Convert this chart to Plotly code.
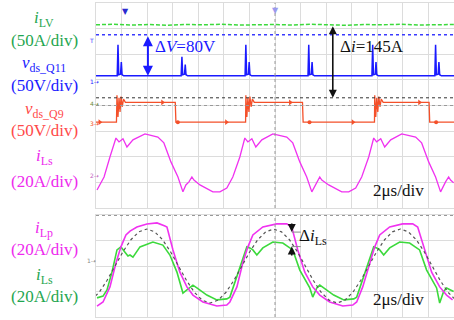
import plotly.graph_objects as go

# ---------------- data (time in microseconds, amplitude in scope divisions) ----------------
# top panel: i_LV (green)
t_ilv = [0, 1.4, 2.8, 4.2, 5.6, 7.0, 8.4, 9.8, 11.2, 12.6, 14.0, 15.4, 16.8, 18.2, 19.6, 21.0, 22.4, 23.8, 25.2, 26.6, 28.0]
y_ilv = [7.15, 7.17, 7.14, 7.16, 7.13, 7.16, 7.15, 7.17, 7.14, 7.15, 7.16, 7.14, 7.17, 7.15, 7.13, 7.16, 7.15, 7.17, 7.14, 7.15, 7.16]

# top panel: v_ds_Q11 (blue)
t_q11 = [0, 1.66, 1.72, 1.78, 1.92, 1.98, 2.04, 2.17,
         6.66, 6.72, 6.78, 6.92, 6.98, 7.04, 7.17,
         11.66, 11.72, 11.78, 11.92, 11.98, 12.04, 12.17,
         16.58, 16.64, 16.70, 16.84, 16.90, 16.96, 17.09,
         21.58, 21.64, 21.70, 21.84, 21.90, 21.96, 22.09,
         26.50, 26.56, 26.62, 26.76, 26.82, 26.88, 27.01, 28.0]
y_q11 = [5.16, 5.16, 6.37, 5.20, 5.22, 5.70, 5.20, 5.16,
         5.16, 5.90, 5.20, 5.22, 5.60, 5.20, 5.16,
         5.16, 6.37, 5.20, 5.22, 5.70, 5.20, 5.16,
         5.16, 6.37, 5.20, 5.22, 5.70, 5.20, 5.16,
         5.16, 6.37, 5.20, 5.22, 5.70, 5.20, 5.16,
         5.16, 6.37, 5.20, 5.22, 5.70, 5.20, 5.16, 5.16]

# top panel: v_ds_Q9 (red)
t_q9 = [0, 1.60, 1.64, 1.72, 1.80, 1.88, 1.96, 2.05, 2.15, 2.30, 6.20, 6.25,
        11.70, 11.72, 11.80, 11.88, 11.96, 12.04, 12.13, 12.23, 12.38, 16.15, 16.20,
        21.78, 21.80, 21.88, 21.96, 22.04, 22.12, 22.21, 22.31, 22.46, 26.05, 26.10, 28.0]
y_q9 = [3.35, 3.35, 4.40, 3.55, 4.30, 3.75, 4.35, 3.95, 4.25, 4.12, 4.12, 3.35,
        3.35, 4.40, 3.55, 4.30, 3.75, 4.35, 3.95, 4.25, 4.12, 4.12, 3.35,
        3.35, 4.40, 3.55, 4.30, 3.75, 4.35, 3.95, 4.25, 4.12, 4.12, 3.35, 3.35]
t_q9_arrows = [0.3, 5.2, 10.2, 15.2, 20.1, 25.3]
y_q9_arrows = [3.35, 4.12, 3.35, 4.12, 3.35, 4.12]
t_q9_dots = [6.4, 16.7, 26.6]
y_q9_dots = [3.35, 3.35, 3.35]

# top panel: i_Ls (magenta)
t_ils_top = [0.08, 0.63, 1.09, 1.56, 1.80, 2.11, 2.42, 2.89, 3.83, 4.84, 5.31, 5.86, 6.41, 6.80, 7.03, 7.27,
             7.50, 7.66, 8.13, 9.14, 9.69, 10.23, 10.70, 11.25, 11.64, 11.88, 12.19, 12.50, 12.97, 13.83,
             14.92, 15.39, 15.94, 16.48, 16.88, 17.27, 17.50, 17.66, 18.20, 19.22, 19.77, 20.31, 20.78,
             21.33, 21.72, 21.95, 22.27, 22.58, 23.05, 23.91, 25.00, 25.47, 26.02, 26.56, 26.95, 27.34,
             27.58, 27.73, 27.97]
y_ils_top = [0.70, 1.21, 1.99, 2.73, 2.58, 2.70, 2.38, 2.66, 2.89, 2.77, 2.54, 1.80, 1.21, 0.63, 0.90, 1.02,
             1.21, 1.09, 0.90, 0.63, 0.63, 0.78, 1.21, 1.99, 2.73, 2.58, 2.70, 2.38, 2.66, 2.89,
             2.77, 2.54, 1.80, 1.21, 0.63, 1.02, 1.21, 1.09, 0.90, 0.63, 0.63, 0.78, 1.21,
             1.99, 2.73, 2.58, 2.70, 2.38, 2.66, 2.89, 2.77, 2.54, 1.80, 1.21, 0.63, 1.02,
             1.21, 1.09, 0.98]

# bottom panel: i_Lp (magenta)
t_ilp = [0.08, 0.55, 1.09, 1.56, 1.95, 2.34, 2.66, 3.20, 3.98, 4.77, 5.39, 5.55, 6.02, 6.56, 7.11, 7.58,
         8.36, 9.45, 10.23, 10.47, 11.02, 11.48, 11.88, 12.27, 13.05, 14.14, 14.92, 15.31, 15.78, 16.33,
         16.95, 17.50, 18.28, 19.30, 20.08, 20.39, 20.86, 21.41, 21.80, 22.19, 22.97, 23.98, 24.77,
         25.16, 25.70, 26.25, 26.88, 27.42, 27.89]
y_ilp = [0.43, 0.59, 1.18, 2.12, 2.75, 3.22, 3.37, 3.53, 3.65, 3.69, 3.57, 3.53, 2.63, 1.76, 1.18, 0.86,
         0.59, 0.43, 0.47, 0.59, 1.18, 2.12, 2.75, 3.22, 3.53, 3.65, 3.65, 3.53, 2.63, 1.76,
         1.18, 0.86, 0.59, 0.43, 0.47, 0.59, 1.18, 2.12, 2.75, 3.22, 3.53, 3.65, 3.65,
         3.53, 2.63, 1.76, 1.18, 0.86, 0.67]

# bottom panel: reference (black dotted)
t_ref = [-0.37, 0.25, 0.87, 1.49, 2.11, 2.73, 3.35, 3.97, 4.59, 5.21, 5.83, 6.45, 7.07, 7.69, 8.31, 8.93,
         9.55, 10.17, 10.79, 11.41, 12.03, 12.65, 13.27, 13.89, 14.51, 15.13, 15.75, 16.37, 16.99,
         17.61, 18.23, 18.85, 19.47, 20.09, 20.71, 21.33, 21.95, 22.57, 23.19, 23.81, 24.43, 25.05,
         25.67, 26.29, 26.91, 27.53, 28.15]
y_ref = [0.66, 0.97, 1.44, 2.00, 2.56, 3.03, 3.34, 3.45, 3.34, 3.03, 2.56, 2.00, 1.44, 0.97, 0.66, 0.55,
         0.66, 0.97, 1.44, 2.00, 2.56, 3.03, 3.34, 3.45, 3.34, 3.03, 2.56, 2.00, 1.44,
         0.97, 0.66, 0.55, 0.66, 0.97, 1.44, 2.00, 2.56, 3.03, 3.34, 3.45, 3.34, 3.03,
         2.56, 2.00, 1.44, 0.97, 0.66]

# bottom panel: i_Ls (green)
t_ils = [0.08, 0.55, 0.86, 1.25, 1.64, 1.95, 2.19, 2.50, 2.66, 2.89, 3.44, 4.45, 5.23, 5.78, 6.33, 6.80,
         7.11, 7.34, 7.58, 7.89, 8.67, 9.45, 10.23, 10.47, 11.02, 11.80, 12.03, 12.27, 12.58, 13.05,
         13.83, 14.61, 15.39, 15.94, 16.72, 16.95, 17.27, 17.50, 17.81, 18.59, 19.38, 20.16, 20.39,
         20.94, 21.72, 21.95, 22.19, 22.50, 22.97, 23.75, 24.53, 25.31, 25.86, 26.64, 26.88, 27.19,
         27.42, 27.73, 27.97]
y_ils = [0.75, 0.82, 1.06, 1.76, 2.63, 2.75, 2.59, 2.39, 2.43, 2.35, 2.75, 2.94, 2.82, 2.43, 1.76, 0.94,
         1.06, 1.14, 1.25, 1.14, 0.86, 0.67, 0.71, 0.78, 1.57, 2.75, 2.71, 2.63, 2.43, 2.71,
         2.94, 2.90, 2.63, 1.84, 1.14, 0.78, 1.14, 1.25, 1.14, 0.86, 0.67, 0.71, 0.78,
         1.57, 2.75, 2.71, 2.63, 2.43, 2.71, 2.94, 2.90, 2.63, 1.84, 1.14, 0.55, 1.00,
         1.14, 1.06, 1.00]

# cursor levels / annotations values
blue_cursor = 6.76
black_cursor = 4.30
dv_t, dv_top, dv_bot = 4.06, 6.76, 5.16
di_t, di_top, di_bot = 18.52, 7.15, 4.30
dils_t, dils_top, dils_bot = 15.31, 3.33, 2.76

# ---------------- styling ----------------
FONT = "Liberation Serif"
GRID = "#dcdcdc"
C_GREEN_TR = "#3cd93c"
C_BLUE = "#1a1aff"
C_RED = "#f4502a"
C_MAG = "#f032f0"
C_GREEN_TXT = "#1fa650"
C_RED_TXT = "#ff4a4a"
C_MAG_TXT = "#ee2aee"

fig = go.Figure()

fig.add_trace(go.Scatter(x=t_ilv, y=y_ilv, mode="lines", line=dict(color=C_GREEN_TR, width=1.5, dash="4px,2px"),
                         xaxis="x", yaxis="y"))
fig.add_trace(go.Scatter(x=t_q11, y=y_q11, mode="lines", line=dict(color=C_BLUE, width=1.5),
                         xaxis="x", yaxis="y"))
fig.add_trace(go.Scatter(x=t_q9, y=y_q9, mode="lines", line=dict(color=C_RED, width=1.3),
                         xaxis="x", yaxis="y"))
fig.add_trace(go.Scatter(x=t_q9_arrows, y=y_q9_arrows, mode="markers",
                         marker=dict(symbol="triangle-right", size=5, color=C_RED), xaxis="x", yaxis="y"))
fig.add_trace(go.Scatter(x=t_q9_dots, y=y_q9_dots, mode="markers",
                         marker=dict(symbol="circle", size=4, color=C_RED), xaxis="x", yaxis="y"))
fig.add_trace(go.Scatter(x=t_ils_top, y=y_ils_top, mode="lines", line=dict(color=C_MAG, width=1.3),
                         xaxis="x", yaxis="y"))

fig.add_trace(go.Scatter(x=t_ils, y=y_ils, mode="lines", line=dict(color=C_GREEN_TR, width=1.6),
                         xaxis="x2", yaxis="y2"))
fig.add_trace(go.Scatter(x=t_ilp, y=y_ilp, mode="lines", line=dict(color=C_MAG, width=1.6),
                         xaxis="x2", yaxis="y2"))
fig.add_trace(go.Scatter(x=t_ref, y=y_ref, mode="lines", line=dict(color="#555555", width=1.2, dash="dot"),
                         xaxis="x2", yaxis="y2"))

axis_common = dict(showgrid=True, gridcolor=GRID, gridwidth=1, zeroline=False, showticklabels=False,
                   ticks="", showline=True, mirror=True, linecolor=GRID, linewidth=1)

shapes = [
    # top panel centre lines and cursors
    dict(type="line", xref="x", yref="y", x0=14, x1=14, y0=0, y1=8, line=dict(color="#999999", width=1, dash="dot")),
    dict(type="line", xref="x", yref="y", x0=0, x1=28, y0=4, y1=4, line=dict(color="#999999", width=1, dash="dot")),
    dict(type="line", xref="x", yref="y", x0=0, x1=28, y0=black_cursor, y1=black_cursor,
         line=dict(color="#333333", width=1, dash="dot")),
    dict(type="line", xref="x", yref="y", x0=0, x1=28, y0=blue_cursor, y1=blue_cursor,
         line=dict(color="#3a3aff", width=1.5, dash="dot")),
    # bottom panel
    dict(type="line", xref="x2", yref="y2", x0=14, x1=14, y0=0, y1=4, line=dict(color="#999999", width=1, dash="dot")),
    dict(type="line", xref="x2", yref="y2", x0=0, x1=28, y0=4, y1=4, line=dict(color="#777777", width=1.3, dash="dot")),
    dict(type="line", xref="x2", yref="y2", x0=dils_t, x1=16.4, y0=dils_top, y1=dils_top,
         line=dict(color="#888888", width=1, dash="dash")),
    dict(type="line", xref="x2", yref="y2", x0=dils_t, x1=16.4, y0=dils_bot, y1=dils_bot,
         line=dict(color="#888888", width=1, dash="dash")),
]

def label(text, y, color, size=17):
    return dict(text=text, xref="paper", yref="paper", x=0.097, y=y, xanchor="center", yanchor="middle",
                showarrow=False, font=dict(family=FONT, size=size, color=color))

annotations = [
    label("<i>i</i><sub>LV</sub>", 0.94, C_GREEN_TXT),
    label("(50A/div)", 0.875, C_GREEN_TXT),
    label("<i>v</i><sub>ds_Q11</sub>", 0.80, C_BLUE),
    label("(50V/div)", 0.734, C_BLUE),
    label("<i>v</i><sub>ds_Q9</sub>", 0.656, C_RED_TXT),
    label("(50V/div)", 0.592, C_RED_TXT),
    label("<i>i</i><sub>Ls</sub>", 0.509, C_MAG_TXT),
    label("(20A/div)", 0.434, C_MAG_TXT),
    label("<i>i</i><sub>Lp</sub>", 0.284, C_MAG_TXT),
    label("(20A/div)", 0.219, C_MAG_TXT),
    label("<i>i</i><sub>Ls</sub>", 0.137, C_GREEN_TXT),
    label("(20A/div)", 0.072, C_GREEN_TXT),
    # arrows
    dict(x=dv_t, y=dv_bot, ax=dv_t, ay=dv_top, xref="x", yref="y", axref="x", ayref="y", text="",
         showarrow=True, arrowhead=2, arrowside="end+start", arrowsize=1, arrowwidth=2, arrowcolor=C_BLUE,
         standoff=0, startstandoff=0),
    dict(x=di_t, y=di_bot, ax=di_t, ay=di_top, xref="x", yref="y", axref="x", ayref="y", text="",
         showarrow=True, arrowhead=2, arrowside="end+start", arrowsize=1, arrowwidth=1.6, arrowcolor="#111111",
         standoff=0, startstandoff=0),
    dict(x=dils_t, y=dils_top, ax=dils_t, ay=3.73, xref="x2", yref="y2", axref="x2", ayref="y2", text="",
         showarrow=True, arrowhead=2, arrowsize=1, arrowwidth=1.6, arrowcolor="#111111", standoff=0),
    dict(x=dils_t, y=dils_bot, ax=dils_t, ay=2.35, xref="x2", yref="y2", axref="x2", ayref="y2", text="",
         showarrow=True, arrowhead=2, arrowsize=1, arrowwidth=1.6, arrowcolor="#111111", standoff=0),
    # texts
    dict(text="Δ<i>V</i>=80V", x=4.45, y=6.29, xref="x", yref="y", xanchor="left", yanchor="middle",
         showarrow=False, font=dict(family=FONT, size=17, color=C_BLUE)),
    dict(text="Δ<i>i</i>=145A", x=18.9, y=6.29, xref="x", yref="y", xanchor="left", yanchor="middle",
         showarrow=False, font=dict(family=FONT, size=17, color="#111111")),
    dict(text="2μs/div", x=21.5, y=0.70, xref="x", yref="y", xanchor="left", yanchor="middle",
         showarrow=False, font=dict(family=FONT, size=17, color="#111111")),
    dict(text="2μs/div", x=21.5, y=0.67, xref="x2", yref="y2", xanchor="left", yanchor="middle",
         showarrow=False, font=dict(family=FONT, size=17, color="#111111")),
    dict(text="Δ<i>i</i><sub>Ls</sub>", x=15.75, y=3.12, xref="x2", yref="y2", xanchor="left", yanchor="middle",
         showarrow=False, font=dict(family=FONT, size=17, color="#111111")),
    # small scope markers
    dict(text="T", x=0.191, y=1 - 35 / 320, xref="paper", yref="paper", showarrow=False,
         font=dict(family="DejaVu Sans", size=6, color="#3a3aff")),
    dict(text="1⇢", x=0.193, y=1 - 76 / 320, xref="paper", yref="paper", showarrow=False,
         font=dict(family="DejaVu Sans", size=6, color=C_BLUE)),
    dict(text="4⇢", x=0.193, y=1 - 98 / 320, xref="paper", yref="paper", showarrow=False,
         font=dict(family="DejaVu Sans", size=6, color="#6a8a3a")),
    dict(text="3⇢", x=0.193, y=1 - 123 / 320, xref="paper", yref="paper", showarrow=False,
         font=dict(family="DejaVu Sans", size=6, color=C_RED)),
    dict(text="2⇢", x=0.193, y=1 - 175 / 320, xref="paper", yref="paper", showarrow=False,
         font=dict(family="DejaVu Sans", size=6, color="#c060c0")),
    dict(text="1⇢", x=0.188, y=1 - 266 / 320, xref="paper", yref="paper", showarrow=False,
         font=dict(family="DejaVu Sans", size=6, color="#888888")),
    dict(text="▼", x=120 / 454, y=1 - 5 / 320, xref="paper", yref="paper", showarrow=False,
         font=dict(family="DejaVu Sans", size=8, color="#2a2ad0")),
    dict(text="▼", x=275 / 454, y=1 - 4 / 320, xref="paper", yref="paper", showarrow=False,
         font=dict(family="DejaVu Sans", size=8, color="#9a9aee")),
]

fig.update_layout(
    width=454, height=320,
    margin=dict(l=0, r=0, t=0, b=0),
    paper_bgcolor="white", plot_bgcolor="white",
    showlegend=False,
    hovermode=False,
    xaxis=dict(domain=[96 / 454, 1.0], range=[0, 28], dtick=2, anchor="y", **axis_common),
    yaxis=dict(domain=[1 - 208 / 320, 1 - 3 / 320], range=[0, 8], dtick=1, anchor="x", **axis_common),
    xaxis2=dict(domain=[96 / 454, 1.0], range=[0, 28], dtick=2, anchor="y2", **axis_common),
    yaxis2=dict(domain=[1 - 317 / 320, 1 - 215 / 320], range=[0, 4], dtick=1, anchor="x2", **axis_common),
    shapes=shapes,
    annotations=annotations,
)

fig.write_html("out.html", config={"displayModeBar": False, "staticPlot": True},
               post_script="document.body.style.margin='0px';document.body.style.overflow='hidden';")
